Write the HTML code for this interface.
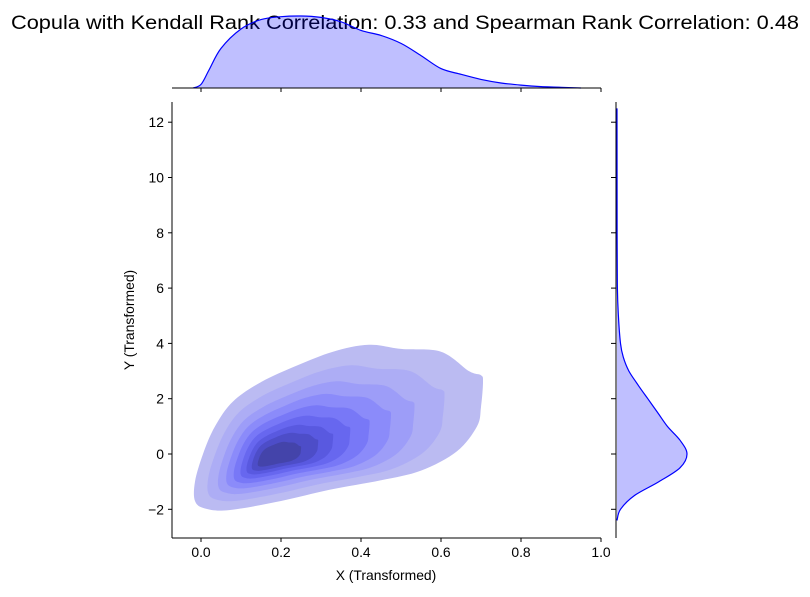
<!DOCTYPE html>
<html><head><meta charset="utf-8"><style>
body{margin:0;background:#fff;}
svg text{font-family:"Liberation Sans",sans-serif;}
</style></head><body>
<svg id="c" width="810" height="592" xmlns="http://www.w3.org/2000/svg">
<text x="405" y="29" text-anchor="middle" font-size="19.4" textLength="788" lengthAdjust="spacingAndGlyphs">Copula with Kendall Rank Correlation: 0.33 and Spearman Rank Correlation: 0.48</text>
<g id="kde"></g>
<g id="topm"></g>
<g id="rightm"></g>
<g id="axes"></g>
<text x="386" y="580" text-anchor="middle" font-size="13.9">X (Transformed)</text>
<text transform="translate(134,320) rotate(-90)" text-anchor="middle" font-size="13.9">Y (Transformed)</text>
</svg>
<script>
const xTicks=[0,0.2,0.4,0.6,0.8,1.0];
const xTickLabels=["0.0","0.2","0.4","0.6","0.8","1.0"];
const yTicks=[-2,0,2,4,6,8,10,12];
const yTickLabels=["−2","0","2","4","6","8","10","12"];
const outerX=[-0.015,0.01,0.07,0.2,0.32,0.45,0.55,0.64,0.69,0.7,0.705,0.7,0.67,0.6,0.5,0.42,0.33,0.24,0.15,0.08,0.035,0.005,-0.015];
const outerY=[-1.7,-1.97,-2.03,-1.7,-1.3,-0.95,-0.6,0.1,1.0,1.7,2.6,2.85,3.0,3.7,3.8,3.95,3.7,3.2,2.6,1.9,1.0,0.0,-1.0];
const levelScales=[1,0.82,0.68,0.57,0.47,0.38,0.3,0.23,0.15];
const levelColors=["#bbbbf2","#adadf5","#9d9df8","#8b8bfa","#7878f7","#6767ef","#5959e0","#4d4dc8","#4444aa"];
const kdeCenter=[0.17,-0.18];
const topX=[-0.02,0,0.02,0.05,0.1,0.15,0.2,0.25,0.3,0.35,0.4,0.45,0.5,0.55,0.6,0.65,0.7,0.75,0.8,0.85,0.9,0.95];
const topD=[0,0.05,0.25,0.55,0.82,0.95,0.99,1.0,0.98,0.92,0.8,0.73,0.62,0.45,0.27,0.19,0.12,0.07,0.04,0.02,0.01,0];
const rightY=[-2.4,-2,-1.5,-1,-0.5,0,0.5,1,1.5,2,2.5,3,3.5,4,5,6,8,12.5];
const rightD=[0,0.05,0.25,0.6,0.9,1.0,0.9,0.72,0.58,0.44,0.3,0.17,0.09,0.05,0.02,0.006,0.002,0];
const L=172,R=601,T=102,B=538;
const sx=v=>201+v*400, sy=v=>454-v*27.65;
const NS="http://www.w3.org/2000/svg";
function mk(tag,attrs,parent){const e=document.createElementNS(NS,tag);for(const k in attrs)e.setAttribute(k,attrs[k]);parent.appendChild(e);return e;}
function smooth(P,closed){
  const n=P.length;let s="M"+P[0][0].toFixed(1)+","+P[0][1].toFixed(1);
  const g=i=>closed?P[(i+n)%n]:P[Math.max(0,Math.min(n-1,i))];
  const m=closed?n:n-1;
  for(let i=0;i<m;i++){const p0=g(i-1),p1=g(i),p2=g(i+1),p3=g(i+2);
    const c1=[p1[0]+(p2[0]-p0[0])/6,p1[1]+(p2[1]-p0[1])/6],c2=[p2[0]-(p3[0]-p1[0])/6,p2[1]-(p3[1]-p1[1])/6];
    s+=" C"+c1[0].toFixed(1)+","+c1[1].toFixed(1)+" "+c2[0].toFixed(1)+","+c2[1].toFixed(1)+" "+p2[0].toFixed(1)+","+p2[1].toFixed(1);}
  return s+(closed?" Z":"");
}
const kdeG=document.getElementById('kde');
levelScales.forEach((s,i)=>{
  const pts=outerX.map((x,j)=>[sx(kdeCenter[0]+(x-kdeCenter[0])*s),sy(kdeCenter[1]+(outerY[j]-kdeCenter[1])*s)]);
  const p=mk('path',{d:smooth(pts,true),fill:levelColors[i]},kdeG);
  
  
});
const topG=document.getElementById('topm');
const tb=88,th=72;
const tp=topX.map((x,i)=>[sx(x),tb-topD[i]*th]);
const d=smooth(tp,false);
const ta=mk('path',{d:d+" Z",fill:"rgba(0,0,255,0.25)",stroke:"none"},topG);


const tline=mk('path',{d:d,fill:"none",stroke:"#0000ff","stroke-width":1.2},topG);


mk('line',{x1:L,y1:tb,x2:R,y2:tb,stroke:"#000","stroke-width":1},topG);
xTicks.forEach(v=>mk('line',{x1:sx(v),y1:tb,x2:sx(v),y2:tb+4,stroke:"#000"},topG));
const rightG=document.getElementById('rightm');
const rb=617,rw=70;
const rp=rightY.map((y,i)=>[rb+rightD[i]*rw,sy(y)]);
const d2=smooth(rp,false);
const ra=mk('path',{d:d2+" Z",fill:"rgba(0,0,255,0.25)",stroke:"none"},rightG);


const rline=mk('path',{d:d2,fill:"none",stroke:"#0000ff","stroke-width":1.2},rightG);


mk('line',{x1:616,y1:T,x2:616,y2:B,stroke:"#000","stroke-width":1},rightG);
yTicks.forEach(v=>mk('line',{x1:611,y1:sy(v),x2:616,y2:sy(v),stroke:"#000"},rightG));
const ax=document.getElementById('axes');
mk('line',{x1:L,y1:T,x2:L,y2:B,stroke:"#000"},ax);
mk('line',{x1:L,y1:B,x2:R,y2:B,stroke:"#000"},ax);
xTicks.forEach((v,i)=>{mk('line',{x1:sx(v),y1:B,x2:sx(v),y2:B+4,stroke:"#000"},ax);
  const t=mk('text',{x:sx(v),y:B+19,'text-anchor':'middle','font-size':13.9},ax);t.textContent=xTickLabels[i];
  
  });
yTicks.forEach((v,i)=>{mk('line',{x1:L-4,y1:sy(v),x2:L,y2:sy(v),stroke:"#000"},ax);
  const t=mk('text',{x:L-8,y:sy(v)+5,'text-anchor':'end','font-size':13.9},ax);t.textContent=yTickLabels[i];
  
  });
</script>
</body></html>
